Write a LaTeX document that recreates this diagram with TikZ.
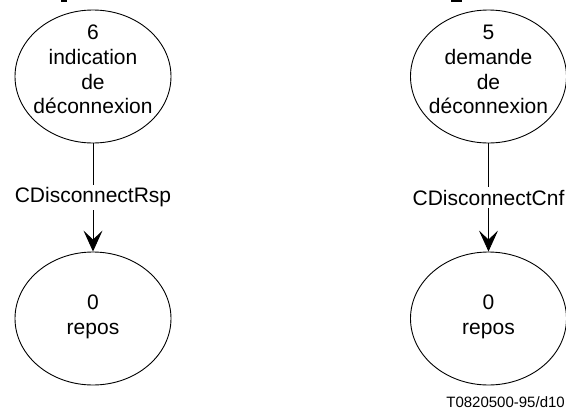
\documentclass[tikz,border=0pt]{standalone}
\usepackage{fontspec}
\setmainfont{Liberation Sans}
\usetikzlibrary{arrows.meta,shapes.geometric}

\tikzset{
  state/.style={draw, ellipse, line width=0.9pt, minimum width=156pt,
    minimum height=133pt, inner sep=0pt},
  statetext/.style={align=center, inner sep=0pt,
    font=\fontsize{21}{24.8}\selectfont},
  trans/.style={line width=0.9pt,
    -{Stealth[length=21pt, width=19pt, inset=9pt]}},
  translabel/.style={fill=white, inner xsep=1pt, inner ysep=2.5pt,
    font=\fontsize{21}{24.8}\selectfont},
  ref/.style={inner sep=0pt, font=\fontsize{15}{18}\selectfont},
}

\begin{document}
\begin{tikzpicture}[x=1pt, y=-1pt]
  \useasboundingbox (0,0) rectangle (566,410);

  % clipped strokes along the top edge
  \fill (61,0) rectangle (67,2);
  \fill (451,0) rectangle (462,2);

  % left column: state 6 -> state 0
  \node[state] (s6) at (93,76.5) {};
  \node[statetext] (t6) at ([yshift=7pt]s6.center)
    {6\\indication\\de\\déconnexion};
  \node[state] (s0a) at (93,318.5) {};
  \node[statetext] (t0a) at ([yshift=2pt]s0a.center) {0\\repos};
  \draw[trans] (s6.south) -- node[translabel] {CDisconnectRsp} (s0a.north);

  % right column: state 5 -> state 0
  \node[state] (s5) at (488.5,76.5) {};
  \node[statetext] (t5) at ([yshift=7pt]s5.center)
    {5\\demande\\de\\déconnexion};
  \node[state] (s0b) at (488.5,318.5) {};
  \node[statetext] (t0b) at ([yshift=2pt]s0b.center) {0\\repos};
  \draw[trans] (s5.south) -- node[translabel] {CDisconnectCnf} (s0b.north);

  % figure reference
  \node[ref, anchor=east] (figref) at (565,402) {T0820500-95/d10};
\end{tikzpicture}
\end{document}
